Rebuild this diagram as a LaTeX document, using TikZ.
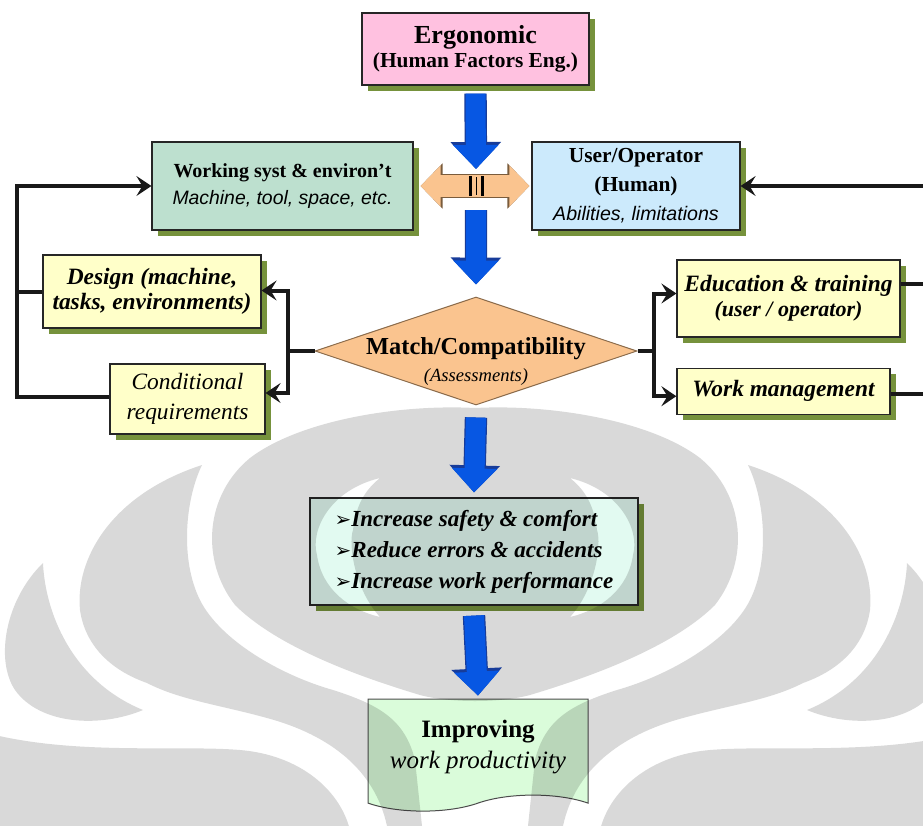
\documentclass[tikz,border=0pt]{standalone}
\usepackage{fontspec}
\setmainfont{Liberation Serif}
\setsansfont{Liberation Sans}
\newfontfamily\dingfont{DejaVu Sans}
\usepackage{xcolor}
\usepackage{tikz}
\usetikzlibrary{shapes.geometric, shapes.symbols, arrows.meta, positioning, shadows, calc}
\definecolor{ergfill}{HTML}{FFC1E0}
\definecolor{wrkfill}{HTML}{BDE0CF}
\definecolor{usrfill}{HTML}{CCEAFC}
\definecolor{actfill}{HTML}{FFFFC9}
\definecolor{cmpfill}{HTML}{FAC48F}
\definecolor{cmpdraw}{HTML}{8A6A4A}
\definecolor{gainfill}{HTML}{E2FAF1}
\definecolor{impfill}{HTML}{DAFCDA}
\definecolor{shadowolive}{HTML}{76923C}
\definecolor{arrblue}{HTML}{0757E3}
\definecolor{arredge}{HTML}{173C9A}
\definecolor{dbldraw}{HTML}{7A5C3C}
\tikzset{
  blk/.style={rectangle, draw=black!85, line width=0.6pt, align=center, inner sep=1pt,
    drop shadow={shadow xshift=3pt, shadow yshift=-3pt, fill=shadowolive, opacity=1}},
  erg/.style={blk, fill=ergfill, minimum width=113.5pt, minimum height=36pt, font=\bfseries},
  wrk/.style={blk, fill=wrkfill, minimum width=130.5pt, minimum height=44pt, font=\fontsize{10}{13.5}\selectfont},
  usr/.style={blk, fill=usrfill, minimum width=104pt, minimum height=44pt, font=\fontsize{10.7}{14.5}\selectfont},
  act/.style={blk, fill=actfill, font=\fontsize{11.7}{12.5}\selectfont\bfseries\itshape},
  gain/.style={blk, fill=gainfill, align=left, minimum width=164pt, minimum height=53.5pt,
    font=\fontsize{11.5}{15.5}\selectfont\bfseries\itshape},
  cmpbox/.style={diamond, draw=cmpdraw, fill=cmpfill, line width=0.5pt, minimum width=161pt, minimum height=54pt, inner sep=0pt},
  cmptxt/.style={align=center, inner sep=0pt, font=\fontsize{12.2}{13.5}\selectfont\bfseries},
  result/.style={tape, tape bend top=none, tape bend bottom=in and out, tape bend height=8pt,
    draw=black!70, line width=0.5pt, fill=impfill, minimum width=110pt, minimum height=56pt, align=center,
    font=\fontsize{12.5}{15.5}\selectfont},
  conn/.style={line width=2pt, draw=black!90},
  arr/.style={conn, -{Stealth[length=7.5pt, width=10pt, inset=3pt]}},
  bigarr/.style={line width=10pt, draw=arrblue, -{Triangle[width=22pt, length=12pt]},
    preaction={draw=arredge, line width=11.2pt, -{Triangle[width=24.5pt, length=13.5pt]}}},
  dblarr/.style={line width=11pt, draw=cmpfill, {Triangle[width=20pt, length=10pt]}-{Triangle[width=20pt, length=10pt]},
    preaction={draw=dbldraw, line width=12.2pt, {Triangle[width=22pt, length=11pt]}-{Triangle[width=22pt, length=11pt]}}},
  wmark/.style={fill=black, fill opacity=0.15, draw=none},
}

\begin{document}
\begin{tikzpicture}[x=0.5pt, y=-0.5pt]
  \useasboundingbox (0,0) rectangle (923,826);
  \node[erg] (ergo) at (475.5,49)
    {\fontsize{13}{15.5}\selectfont Ergonomic\\\fontsize{10.7}{15.5}\selectfont (Human Factors Eng.)};
  \node[wrk] (work) at (282.5,186)
    {\textbf{Working syst \& environ't}\\{\sffamily\itshape\fontsize{9.7}{13.5}\selectfont Machine, tool, space, etc.}};
  \node[usr] (user) at (636,186)
    {\textbf{User/Operator}\\\textbf{(Human)}\\{\sffamily\itshape\fontsize{9.8}{14.5}\selectfont Abilities, limitations}};
  \node[act, minimum width=109pt, minimum height=36.5pt] (design) at (152,291.5) {Design (machine,\\tasks, environments)};
  \node[act, minimum width=77.5pt, minimum height=35pt, font=\fontsize{11.7}{15}\selectfont\itshape] (cond) at (187.5,399)
    {Conditional\\requirements};
  \node[cmpbox] (cmp) at (476,351) {};
  \node[cmptxt] (cmplbl) at ([yshift=-5.5pt]cmp.center)
    {Match/Compatibility\\{\fontsize{9.3}{13.5}\selectfont\mdseries\itshape (Assessments)}};
  \node[act, minimum width=111.5pt, minimum height=38.5pt] (edu) at (788.5,298.5)
    {Education \& training\\{\fontsize{11}{12.5}\selectfont (user / operator)}};
  \node[act, minimum width=106.5pt, minimum height=23pt, below=15pt of edu.south west, anchor=north west] (wm)
    {Work management};
  \node[gain] (gain) at (474,551.5)
    {{\dingfont\fontsize{10}{10}\selectfont ➢}Increase safety \& comfort\\
     {\dingfont\fontsize{10}{10}\selectfont ➢}Reduce errors \& accidents\\
     {\dingfont\fontsize{10}{10}\selectfont ➢}Increase work performance};
  \node[result, below=46.5pt of gain, xshift=2pt] (impr)
    {\textbf{Improving}\\\itshape work productivity};

  \coordinate (hub) at ($(work.east)!0.53!(user.west)$);
  \coordinate (lsplit) at ($(cmp.west)+(-27,0)$);
  \coordinate (rsplit) at ($(cmp.east)+(16,0)$);
  \coordinate (lrail) at ($(work.west)+(-134,0)$);
  \coordinate (rrail) at ($(user.east)+(190,0)$);

  \draw[conn] (cmp.west) -- (lsplit);
  \draw[arr] (lsplit) |- ([yshift=0.5pt]design.east);
  \draw[arr] (lsplit) |- ([yshift=3pt]cond.east);
  \draw[arr] ([yshift=1pt]cond.west) -| (lrail) -- (work.west);
  \draw[conn] (design.west) -- (design.west -| lrail);
  \draw[conn] (cmp.east) -- (rsplit);
  \draw[arr] (rsplit) |- ([yshift=2.5pt]edu.west);
  \draw[arr] (rsplit) |- ([yshift=-2.5pt]wm.west);
  \draw[arr] ([yshift=-1.5pt]wm.east) -| (rrail) -- (user.east);
  \draw[conn] ([yshift=7.5pt]edu.east) -- ++(60,0);

  \fill[wmark, even odd rule] (475,408) .. controls (400,404) and (300,420) .. (250,458)
    .. controls (205,495) and (200,560) .. (235,605) .. controls (280,650) and (370,680) .. (420,695)
    .. controls (450,703) and (500,703) .. (530,695) .. controls (580,680) and (670,650) .. (715,605)
    .. controls (750,560) and (745,495) .. (700,458) .. controls (650,420) and (550,404) .. (475,408) -- cycle
    (380,478) .. controls (330,490) and (310,530) .. (317,555) .. controls (322,590) and (350,610) .. (380,617)
    .. controls (355,590) and (348,545) .. (353,530) .. controls (356,505) and (365,490) .. (380,478) -- cycle
    (570,478) .. controls (620,490) and (640,530) .. (633,555) .. controls (628,590) and (600,610) .. (570,617)
    .. controls (595,590) and (602,545) .. (597,530) .. controls (594,505) and (585,490) .. (570,478) -- cycle;
  \foreach \side in {1,-1}{
    \begin{scope}[shift={(475,0)}, xscale=\side, shift={(-475,0)}]
      \fill[wmark] (202,465) .. controls (185,500) and (180,560) .. (200,600)
        .. controls (220,640) and (280,675) .. (333,690) .. controls (380,705) and (405,720) .. (415,760)
        -- (422,826) -- (387,826) .. controls (375,770) and (330,735) .. (267,718)
        .. controls (220,705) and (180,700) .. (147,683) .. controls (110,670) and (85,645) .. (80,610)
        .. controls (75,560) and (110,495) .. (202,465) -- cycle;
      \fill[wmark] (43,563) .. controls (45,610) and (70,680) .. (143,710)
        .. controls (100,728) and (40,725) .. (15,690) .. controls (-5,660) and (5,600) .. (43,563) -- cycle;
      \fill[wmark] (-5,735) .. controls (80,755) and (180,745) .. (240,750)
        .. controls (300,755) and (340,790) .. (350,830) -- (-5,830) -- cycle;
    \end{scope}
  }

  \draw[dblarr] ([xshift=3.5pt]work.east) -- ([xshift=-1pt]user.west);
  \draw[line width=1.4pt] ([xshift=-2.75pt, yshift=5pt]hub) -- ([xshift=-2.75pt, yshift=-5pt]hub)
    ([xshift=3.25pt, yshift=5pt]hub) -- ([xshift=3.25pt, yshift=-5pt]hub);
  \draw[line width=0.5pt] ([xshift=0.25pt, yshift=4.5pt]hub) -- ([xshift=0.25pt, yshift=-4.5pt]hub);
  \draw[bigarr] ([yshift=-4pt]ergo.south) -- ([yshift=8.5pt]hub);
  \draw[bigarr] ([yshift=-12pt]hub) -- ([yshift=6pt]cmp.north);
  \draw[bigarr] ([yshift=-6pt]cmp.south) -- ([yshift=2.5pt]gain.north);
  \draw[bigarr] ([yshift=-5pt]gain.south) -- ([yshift=1.5pt]impr.north);
\end{tikzpicture}
\end{document}
